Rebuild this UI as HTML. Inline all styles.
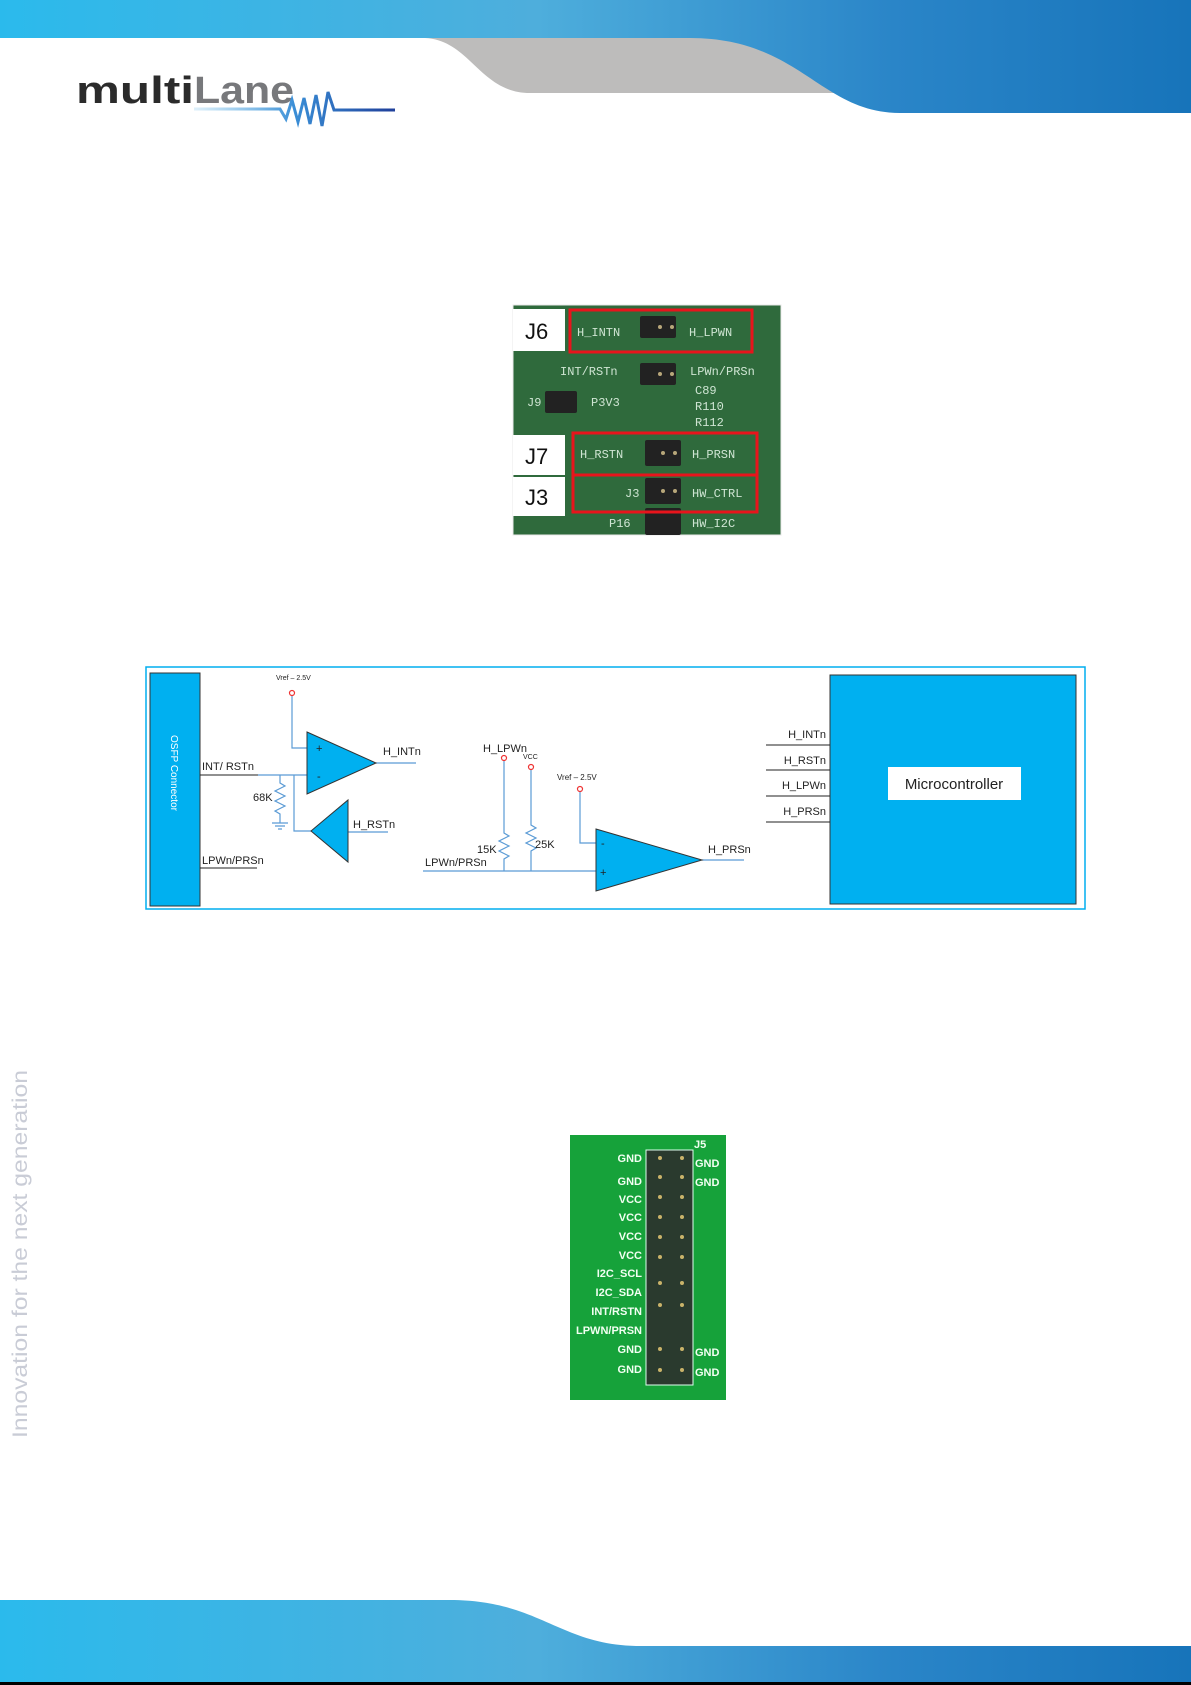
<!DOCTYPE html>
<html><head><meta charset="utf-8">
<style>
html,body{margin:0;padding:0;background:#fff;}
body{width:1191px;height:1685px;position:relative;overflow:hidden;font-family:"Liberation Sans",sans-serif;}
svg{position:absolute;left:0;top:0;}
</style></head>
<body>
<svg width="1191" height="1685" viewBox="0 0 1191 1685" xmlns="http://www.w3.org/2000/svg">
<defs>
<linearGradient id="hg" x1="0" x2="1" y1="0" y2="0">
<stop offset="0" stop-color="#2bbaec"/><stop offset="0.45" stop-color="#4eaedc"/><stop offset="0.75" stop-color="#2a85c8"/><stop offset="1" stop-color="#1774ba"/>
</linearGradient>
<linearGradient id="wg" x1="0" x2="1"><stop offset="0" stop-color="#5cb3e6" stop-opacity="0.2"/><stop offset="0.5" stop-color="#3a8ed6"/><stop offset="1" stop-color="#1f3f9a"/></linearGradient>
</defs>
<!-- header -->
<path d="M425 38 C470 40 480 93 530 93 L900 93 L900 38 Z" fill="#bdbcbb"/>
<path d="M0 0 H1191 V113 H900 C820 113 800 38 690 38 H0 Z" fill="url(#hg)"/>
<text x="76" y="103" font-family="Liberation Sans Narrow, Liberation Sans, sans-serif" font-size="38" font-weight="bold" fill="#2b2b2b" textLength="118" lengthAdjust="spacingAndGlyphs">multi</text>
<text x="194" y="103" font-family="Liberation Sans Narrow, Liberation Sans, sans-serif" font-size="38" font-weight="bold" fill="#77787b" textLength="100" lengthAdjust="spacingAndGlyphs">Lane</text>
<path d="M194 109 H280 L286 119 L292 100 L298 122 L304 98 L310 124 L316 95 L322 126 L328 92 L334 110 H395" fill="none" stroke="url(#wg)" stroke-width="3"/>
<!-- footer -->
<path d="M0 1600 H450 C540 1600 560 1646 640 1646 H1191 V1682 H0 Z" fill="url(#hg)"/>
<rect x="0" y="1682" width="1191" height="3" fill="#000"/>
<!-- side text -->
<text transform="translate(27,1438) rotate(-90)" font-size="21" fill="#c9ccd6" textLength="368" lengthAdjust="spacingAndGlyphs">Innovation for the next generation</text>

<!-- photo 1 -->
<rect x="513" y="305" width="268" height="230" fill="#2f6a3c"/>
<rect x="513" y="305" width="268" height="230" fill="none" stroke="#e8e8e8"/>
<rect x="513" y="309" width="52" height="42" fill="#fff"/><text x="525" y="339" font-size="22" fill="#111">J6</text>
<rect x="513" y="435" width="52" height="40" fill="#fff"/><text x="525" y="464" font-size="22" fill="#111">J7</text>
<rect x="513" y="477" width="52" height="39" fill="#fff"/><text x="525" y="505" font-size="22" fill="#111">J3</text>
<g fill="#222">
<rect x="640" y="316" width="36" height="22" rx="2"/>
<rect x="640" y="363" width="36" height="22" rx="2"/>
<rect x="545" y="391" width="32" height="22" rx="2"/>
<rect x="645" y="440" width="36" height="26" rx="2"/>
<rect x="645" y="478" width="36" height="26" rx="2"/>
<rect x="645" y="508" width="36" height="27" rx="2"/>
</g>
<g fill="#b8a77a">
<circle cx="660" cy="327" r="2"/><circle cx="672" cy="327" r="2"/><circle cx="660" cy="374" r="2"/><circle cx="672" cy="374" r="2"/>
<circle cx="663" cy="453" r="2"/><circle cx="675" cy="453" r="2"/><circle cx="663" cy="491" r="2"/><circle cx="675" cy="491" r="2"/>
</g>
<g font-family="Liberation Mono, monospace" font-size="12" fill="#cfe5d3">
<text x="577" y="336">H_INTN</text><text x="689" y="336">H_LPWN</text>
<text x="560" y="375">INT/RSTn</text><text x="690" y="375">LPWn/PRSn</text>
<text x="527" y="406">J9</text><text x="591" y="406">P3V3</text>
<text x="695" y="394">C89</text><text x="695" y="410">R110</text><text x="695" y="426">R112</text>
<text x="580" y="458">H_RSTN</text><text x="692" y="458">H_PRSN</text>
<text x="625" y="497">J3</text><text x="692" y="497">HW_CTRL</text>
<text x="609" y="527">P16</text><text x="692" y="527">HW_I2C</text>
</g>
<g fill="none" stroke="#e8141c" stroke-width="3">
<rect x="570" y="310" width="182" height="42"/>
<rect x="573" y="433" width="184" height="42"/>
<rect x="573" y="475" width="184" height="37"/>
</g>

<!-- diagram -->
<rect x="146" y="667" width="939" height="242" fill="none" stroke="#00aeef" stroke-width="1.5"/>
<rect x="150" y="673" width="50" height="233" fill="#00b0f0" stroke="#333"/>
<text transform="translate(171,735) rotate(90)" font-size="10" fill="#fff">OSFP Connector</text>
<rect x="830" y="675" width="246" height="229" fill="#00b0f0" stroke="#333"/>
<rect x="888" y="767" width="133" height="33" fill="#fff"/>
<text x="954" y="789" font-size="15" fill="#222" text-anchor="middle">Microcontroller</text>
<g stroke="#222" stroke-width="1">
<line x1="766" y1="745" x2="830" y2="745"/><line x1="766" y1="770" x2="830" y2="770"/>
<line x1="766" y1="796" x2="830" y2="796"/><line x1="766" y1="822" x2="830" y2="822"/>
<line x1="200" y1="775" x2="258" y2="775"/><line x1="200" y1="868" x2="257" y2="868"/>
</g>
<g font-size="11" fill="#222" text-anchor="end">
<text x="826" y="738">H_INTn</text><text x="826" y="764">H_RSTn</text><text x="826" y="789">H_LPWn</text><text x="826" y="815">H_PRSn</text>
</g>
<g fill="none" stroke="#5b9bd5" stroke-width="1.2">
<path d="M292 696 V748 H307"/>
<path d="M258 775 H307"/>
<path d="M280 775 V783 L285 786 L275 791 L285 796 L275 801 L285 806 L275 811 L280 814 V823"/>
<path d="M272 823 H288 M275 826 H285 M278 829 H282"/>
<path d="M294 775 V831 H311"/>
<path d="M376 763 H416"/>
<path d="M348 832 H388"/>
<path d="M423 871 H596"/>
<path d="M504 761 V833 L509 836 L499 841 L509 846 L499 851 L509 856 L504 859 V871"/>
<path d="M531 770 V825 L536 828 L526 833 L536 838 L526 843 L536 848 L531 851 V871"/>
<path d="M580 792 V843 H596"/>
<path d="M702 860 H744"/>
</g>
<g fill="#00b0f0" stroke="#333" stroke-width="1">
<path d="M307 732 L376 763 L307 794 Z"/>
<path d="M311 831 L348 800 L348 862 Z"/>
<path d="M596 829 L702 860 L596 891 Z"/>
</g>
<g fill="#fff" stroke="#e33" stroke-width="1.2">
<circle cx="292" cy="693" r="2.5"/><circle cx="504" cy="758" r="2.5"/><circle cx="531" cy="767" r="2.5"/><circle cx="580" cy="789" r="2.5"/>
</g>
<g font-size="11" fill="#222">
<text x="276" y="680" font-size="7">Vref – 2.5V</text>
<text x="316" y="752">+</text><text x="317" y="780">-</text>
<text x="383" y="755">H_INTn</text>
<text x="202" y="770">INT/ RSTn</text>
<text x="253" y="801">68K</text>
<text x="353" y="828">H_RSTn</text>
<text x="202" y="864">LPWn/PRSn</text>
<text x="425" y="866">LPWn/PRSn</text>
<text x="483" y="752">H_LPWn</text>
<text x="523" y="759" font-size="7">VCC</text>
<text x="557" y="780" font-size="8">Vref – 2.5V</text>
<text x="477" y="853">15K</text>
<text x="535" y="848">25K</text>
<text x="601" y="847">-</text><text x="600" y="876">+</text>
<text x="708" y="853">H_PRSn</text>
</g>

<!-- photo 2 -->
<rect x="570" y="1135" width="156" height="265" fill="#16a23a"/>
<rect x="646" y="1150" width="47" height="235" fill="#2a3a2e" stroke="#dfe"/>
<g fill="#c9b36a">
<circle cx="660" cy="1158" r="2"/><circle cx="682" cy="1158" r="2"/>
<circle cx="660" cy="1177" r="2"/><circle cx="682" cy="1177" r="2"/>
<circle cx="660" cy="1197" r="2"/><circle cx="682" cy="1197" r="2"/>
<circle cx="660" cy="1217" r="2"/><circle cx="682" cy="1217" r="2"/>
<circle cx="660" cy="1237" r="2"/><circle cx="682" cy="1237" r="2"/>
<circle cx="660" cy="1257" r="2"/><circle cx="682" cy="1257" r="2"/>
<circle cx="660" cy="1283" r="2"/><circle cx="682" cy="1283" r="2"/>
<circle cx="660" cy="1305" r="2"/><circle cx="682" cy="1305" r="2"/>
<circle cx="660" cy="1349" r="2"/><circle cx="682" cy="1349" r="2"/>
<circle cx="660" cy="1370" r="2"/><circle cx="682" cy="1370" r="2"/>
</g>
<g font-size="11" font-weight="bold" fill="#f2fff2" text-anchor="end">
<text x="642" y="1162">GND</text><text x="642" y="1185">GND</text>
<text x="642" y="1203">VCC</text><text x="642" y="1221">VCC</text><text x="642" y="1240">VCC</text><text x="642" y="1259">VCC</text>
<text x="642" y="1277">I2C_SCL</text><text x="642" y="1296">I2C_SDA</text>
<text x="642" y="1315">INT/RSTN</text><text x="642" y="1334">LPWN/PRSN</text>
<text x="642" y="1353">GND</text><text x="642" y="1373">GND</text>
</g>
<g font-size="11" font-weight="bold" fill="#f2fff2">
<text x="694" y="1148">J5</text>
<text x="695" y="1167">GND</text><text x="695" y="1186">GND</text>
<text x="695" y="1356">GND</text><text x="695" y="1376">GND</text>
</g>
</svg>
</body></html>
